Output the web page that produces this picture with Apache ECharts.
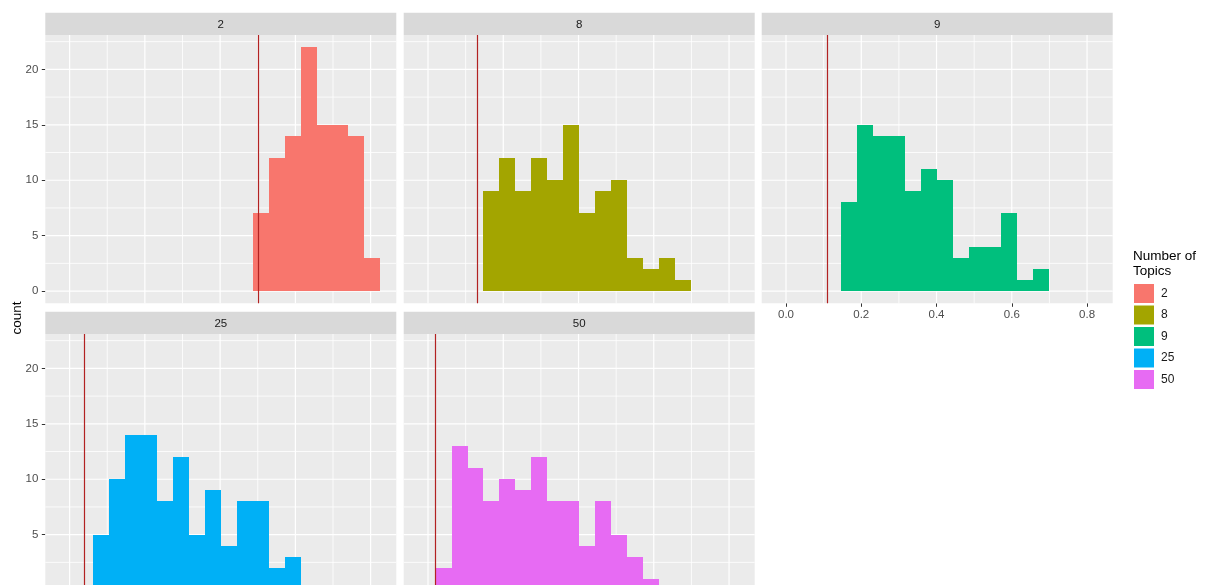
<!DOCTYPE html>
<html><head><meta charset="utf-8">
<script src="https://cdn.jsdelivr.net/npm/echarts@6/dist/echarts.min.js"></script>
<style>
html,body{margin:0;padding:0;overflow:hidden;background:#fff;width:1205px;height:585px}
#c{width:1205px;height:640px}
</style></head>
<body><div id="c"></div>
<script>
// ---- data ----
const panels = ['2', '8', '9', '25', '50'];
const colors = ['#F8766D', '#A3A500', '#00BF7D', '#00B0F6', '#E76BF3'];
const binOrigin = 0.0202;
const binWidth = 0.0424;
const startBin = [11, 3, 3, 1, 0];
const counts2 = [7, 12, 14, 22, 15, 15, 14, 3];
const counts8 = [9, 12, 9, 12, 10, 15, 7, 9, 10, 3, 2, 3, 1];
const counts9 = [8, 15, 14, 14, 9, 11, 10, 3, 4, 4, 7, 1, 2];
const counts25 = [5, 10, 14, 14, 8, 12, 5, 9, 4, 8, 8, 2, 3];
const counts50 = [2, 13, 11, 8, 10, 9, 12, 8, 8, 4, 8, 5, 3, 1];
const vlines = [0.502, 0.125, 0.111, 0.040, 0.019];
const xTicks = [0, 0.2, 0.4, 0.6, 0.8];
const xMinor = [0.1, 0.3, 0.5, 0.7];
const yTicks = [0, 5, 10, 15, 20];
const yMinor = [2.5, 7.5, 12.5, 17.5, 22.5];
const xRange = [-0.0646, 0.8682];
const yRange = [-1.1, 23.1];

const allCounts = [counts2, counts8, counts9, counts25, counts50];

// ---- layout ----
const FONT = "'Liberation Sans', Arial, sans-serif";
const lefts = [45.3, 403.7, 761.7, 45.3, 403.7];
const tops = [35, 35, 35, 334, 334];
const W = 351, H = 268.3, SH = 22.3;

const grids = [], xAxes = [], yAxes = [], series = [], graphics = [];

panels.forEach((p, i) => {
  grids.push({left: lefts[i], top: tops[i], width: W, height: H, show: true,
    backgroundColor: '#EBEBEB', borderWidth: 0, containLabel: false});
  const showX = (i === 2);
  const showY = (i === 0 || i === 3);
  xAxes.push({gridIndex: i, type: 'value', min: xRange[0], max: xRange[1],
    axisLine: {show: false, onZero: false}, splitLine: {show: false},
    axisTick: {show: showX, customValues: xTicks, length: 3.5, lineStyle: {color: '#333', width: 1}},
    axisLabel: {show: showX, customValues: xTicks, formatter: v => v.toFixed(1),
      color: '#4D4D4D', fontSize: 11.5, fontFamily: FONT, margin: 6}});
  yAxes.push({gridIndex: i, type: 'value', min: yRange[0], max: yRange[1],
    axisLine: {show: false, onZero: false}, splitLine: {show: false},
    axisTick: {show: showY, customValues: yTicks, length: 3.5, lineStyle: {color: '#333', width: 1}},
    axisLabel: {show: showY, customValues: yTicks, color: '#4D4D4D', fontSize: 11.5,
      fontFamily: FONT, margin: 7}});

  // grid lines
  const gl = [];
  xTicks.forEach(v => gl.push([v, 0, 1]));
  xMinor.forEach(v => gl.push([v, 0, 0]));
  yTicks.forEach(v => gl.push([v, 1, 1]));
  yMinor.forEach(v => gl.push([v, 1, 0]));
  series.push({type: 'custom', name: 'grid' + i, xAxisIndex: i, yAxisIndex: i, silent: true, z: 1,
    data: gl, encode: {x: 0, y: 0},
    renderItem: (params, api) => {
      const v = api.value(0), o = api.value(1), major = api.value(2);
      const cs = params.coordSys;
      let shape;
      if (o === 0) {
        const px = api.coord([v, 0])[0];
        shape = {x1: px, y1: cs.y, x2: px, y2: cs.y + cs.height};
      } else {
        const py = api.coord([0, v])[1];
        shape = {x1: cs.x, y1: py, x2: cs.x + cs.width, y2: py};
      }
      return {type: 'line', shape: shape,
        style: {stroke: '#FFFFFF', lineWidth: major ? 1.2 : 0.8}};
    }});

  // histogram bars
  const data = allCounts[i].map((c, k) => {
    const b = startBin[i] + k;
    return [binOrigin + b * binWidth, binOrigin + (b + 1) * binWidth, c];
  });
  series.push({type: 'custom', name: p, xAxisIndex: i, yAxisIndex: i, z: 2,
    itemStyle: {color: colors[i]}, data: data, encode: {x: [0, 1], y: 2},
    renderItem: (params, api) => {
      const p0 = api.coord([api.value(0), 0]);
      const p1 = api.coord([api.value(1), api.value(2)]);
      const x0 = Math.round(p0[0]), x1 = Math.round(p1[0]);
      const y0 = Math.round(p0[1]), y1 = Math.round(p1[1]);
      return {type: 'rect',
        shape: {x: x0, y: y1, width: x1 - x0, height: y0 - y1},
        style: {fill: colors[i]}};
    },
    markLine: {silent: true, symbol: ['none', 'none'], label: {show: false}, z: 5,
      lineStyle: {color: '#B22222', width: 1.2, type: 'solid'},
      emphasis: {disabled: true},
      data: [{xAxis: vlines[i]}]}
  });

  // strip
  graphics.push({type: 'rect', shape: {x: lefts[i], y: tops[i] - SH, width: W, height: SH},
    style: {fill: '#D9D9D9'}, silent: true});
  graphics.push({type: 'text', x: lefts[i] + W / 2, y: tops[i] - SH / 2 + 0.5,
    style: {text: p, align: 'center', verticalAlign: 'middle', fill: '#1A1A1A',
      fontSize: 11.5, fontFamily: FONT}, silent: true});
});

graphics.push({type: 'text', x: 17, y: 318, rotation: Math.PI / 2,
  style: {text: 'count', align: 'center', verticalAlign: 'middle', fill: '#000',
    fontSize: 13.5, fontFamily: FONT}, silent: true});
graphics.push({type: 'text', x: 1133, y: 249,
  style: {text: 'Number of\nTopics', align: 'left', verticalAlign: 'top', fill: '#000',
    fontSize: 13.5, lineHeight: 15, fontFamily: FONT}, silent: true});

const chart = echarts.init(document.getElementById('c'), null, {renderer: 'canvas'});
chart.setOption({
  animation: false,
  grid: grids, xAxis: xAxes, yAxis: yAxes, series: series,
  graphic: graphics,
  legend: {data: panels, orient: 'vertical', left: 1134, top: 284, padding: 0, icon: 'rect',
    itemWidth: 20, itemHeight: 19, itemGap: 2.5, selectedMode: false,
    textStyle: {fontSize: 12, color: '#1A1A1A', fontFamily: FONT, padding: [0, 0, 0, 2]}},
  tooltip: {show: false}
});
</script>
</body></html>
